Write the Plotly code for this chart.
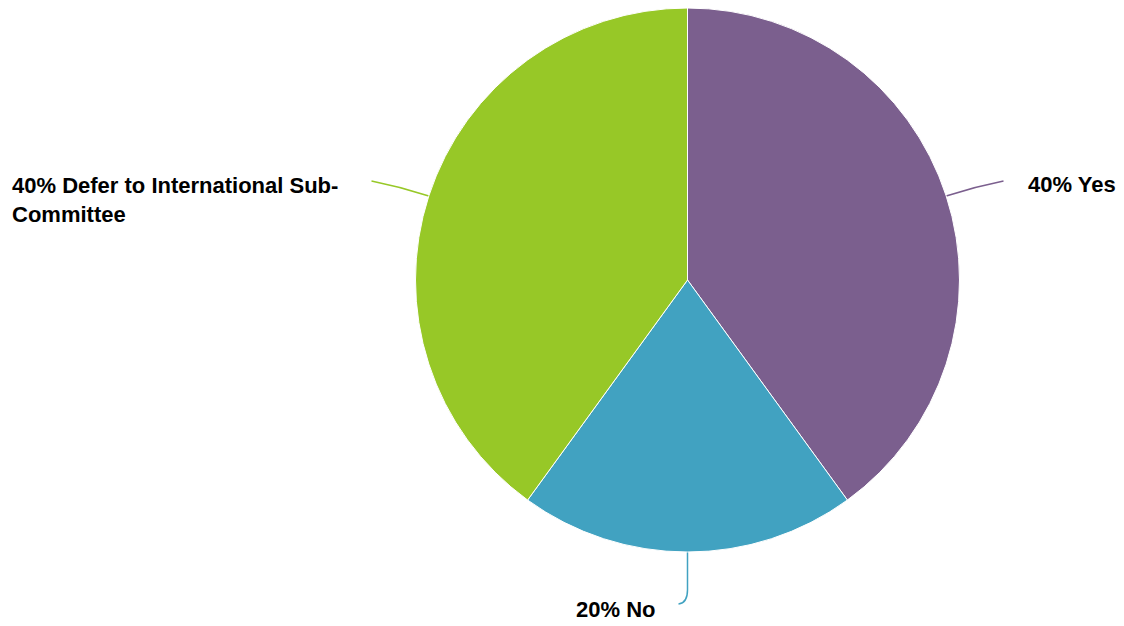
import math
import plotly.graph_objects as go

# ---- data ----
labels = ["Yes", "No", "Defer to International Sub-Committee"]
values = [40, 20, 40]
label_texts = ["40% Yes", "20% No", "40% Defer to International Sub-<br>Committee"]
colors = ["#7B5F8E", "#41A2C1", "#97C827"]

# ---- layout geometry (window pixels) ----
OFF = 8  # default page body margin
W, H = 1124 - OFF, 626 - OFF
CX, CY, R = 687.5, 280.0, 272.0


def px(x):
    return (x - OFF) / W


def py(y):
    return 1 - (y - OFF) / H


fig = go.Figure()
fig.add_trace(go.Pie(
    labels=labels, values=values, sort=False, direction="clockwise", rotation=0,
    marker=dict(colors=colors, line=dict(color="white", width=1)),
    textinfo="none", hoverinfo="label+percent", showlegend=False,
    domain=dict(x=[px(CX - R), px(CX + R)], y=[py(CY + R), py(CY - R)]),
))

total = sum(values)
cum = 0
shapes = []
annotations = []
for i, v in enumerate(values):
    mid = (cum + v / 2) / total * 2 * math.pi
    cum += v
    sx, sy = math.sin(mid), -math.cos(mid)
    ex, ey = CX + R * sx, CY + R * sy
    if abs(sy) > 0.9:  # bottom label: drop then curl left
        path = (f"M {px(ex)},{py(ey)} L {px(ex)},{py(ey + 38)} "
                f"Q {px(ex)},{py(ey + 51)} {px(ex - 9)},{py(ey + 52)}")
        annotations.append(dict(x=px(ex - 31), y=py(ey + 57), xref="paper", yref="paper",
                                text=label_texts[i], xanchor="right", yanchor="middle",
                                showarrow=False, align="right"))
    else:
        side = 1 if sx > 0 else -1
        endx, endy = CX + side * 316, ey - 15
        cx_, cy_ = ex + sx * 30, ey + sy * 30
        path = f"M {px(ex)},{py(ey)} Q {px(cx_)},{py(cy_)} {px(endx)},{py(endy)}"
        if side > 0:
            annotations.append(dict(x=px(endx + 22), y=py(endy + 4), xref="paper", yref="paper",
                                    text=label_texts[i], xanchor="left", yanchor="middle",
                                    showarrow=False, align="left"))
        else:
            annotations.append(dict(x=px(10), y=py(endy + 19), xref="paper", yref="paper",
                                    text=label_texts[i], xanchor="left", yanchor="middle",
                                    showarrow=False, align="left"))
    shapes.append(dict(type="path", path=path, xref="paper", yref="paper",
                       line=dict(color=colors[i], width=1.5), layer="below"))

fig.update_layout(
    width=W, height=H,
    margin=dict(l=0, r=0, t=0, b=0),
    paper_bgcolor="white", plot_bgcolor="white",
    font=dict(family="Liberation Sans, Arial, sans-serif", size=22, color="black"),
    shapes=shapes,
    annotations=[dict(a, font=dict(family="Liberation Sans, Arial, sans-serif", size=22,
                                   color="black", weight="bold")) for a in annotations],
)

fig.write_html("out.html")
